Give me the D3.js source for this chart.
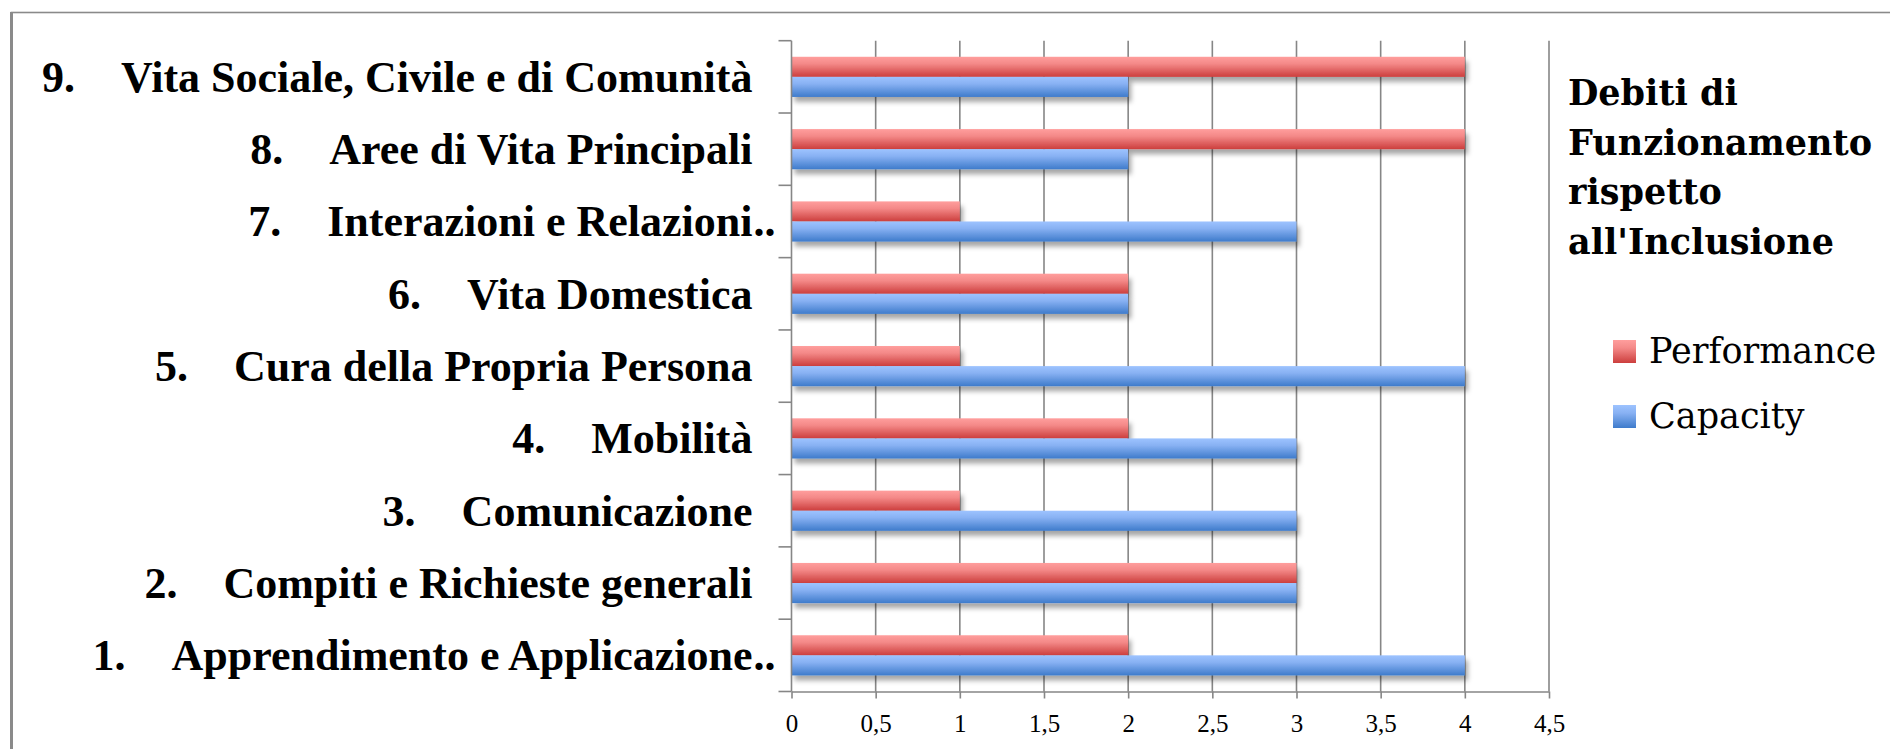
<!DOCTYPE html>
<html>
<head>
<meta charset="utf-8">
<script src="https://cdn.jsdelivr.net/npm/d3@7"></script>
<style>
  body { margin: 0; background: #fff; }
  svg { display: block; }
</style>
</head>
<body>
<div id="chart"></div>
<script>
// data (bottom to top)
var numbers = ["1.", "2.", "3.", "4.", "5.", "6.", "7.", "8.", "9."];
var areas = ["Apprendimento e Applicazione..", "Compiti e Richieste generali", "Comunicazione",
    "Mobilità", "Cura della Propria Persona", "Vita Domestica", "Interazioni e Relazioni..",
    "Aree di Vita Principali", "Vita Sociale, Civile e di Comunità"];
var performance = [2, 3, 1, 2, 1, 2, 1, 4, 4];
var capacity = [4, 3, 3, 3, 4, 2, 3, 2, 2];
var seriesNames = ["Performance", "Capacity"];
var xTicks = [0, 0.5, 1, 1.5, 2, 2.5, 3, 3.5, 4, 4.5];
var titleLines = ["Debiti di", "Funzionamento", "rispetto", "all'Inclusione"];

var width = 1890, height = 749;
var axisColor = "#868686";

var it = d3.formatLocale({decimal: ",", thousands: ".", grouping: [3], currency: ["", "€"]});
var fmt = it.format(".1~f");

var svg = d3.select("#chart").append("svg")
    .attr("width", width)
    .attr("height", height);

var defs = svg.append("defs");

function grad(id, stops) {
    var g = defs.append("linearGradient").attr("id", id)
        .attr("x1", 0).attr("y1", 0).attr("x2", 0).attr("y2", 1);
    stops.forEach(function(s) {
        g.append("stop").attr("offset", s[0]).attr("stop-color", s[1]);
    });
}
grad("gradRed", [["0%", "#ff9e9d"], ["35%", "#f48988"], ["100%", "#cc3e3d"]]);
grad("gradBlue", [["0%", "#9dc3ff"], ["35%", "#88b1f3"], ["100%", "#3e7bcb"]]);

var shadow = defs.append("filter").attr("id", "shadow")
    .attr("x", "-5%").attr("y", "-50%").attr("width", "110%").attr("height", "200%");
shadow.append("feDropShadow")
    .attr("dx", 3).attr("dy", 5).attr("stdDeviation", 2.5)
    .attr("flood-color", "#000").attr("flood-opacity", 0.35);

// outer frame
svg.append("rect")
    .attr("x", 11.5).attr("y", 12.5)
    .attr("width", width + 20).attr("height", height + 20)
    .attr("fill", "none")
    .attr("stroke", "#8a8a8a")
    .attr("stroke-width", 1.6);
svg.append("line")
    .attr("x1", 11.5).attr("x2", 11.5).attr("y1", 12).attr("y2", height)
    .attr("stroke", "#8a8a8a").attr("stroke-width", 3);

// scales
var x = d3.scaleLinear().domain([0, 4.5]).range([791.5, 1549]);
var y = d3.scaleBand().domain(numbers.slice().reverse()).range([40.7, 691.5]);
var ySub = d3.scaleBand().domain(seriesNames).range([0, y.bandwidth()]).paddingOuter(0.8);

// grid lines
svg.append("g").selectAll("line")
    .data(xTicks.filter(function(d) { return d > 0; }))
    .enter().append("line")
    .attr("x1", function(d) { return x(d); })
    .attr("x2", function(d) { return x(d); })
    .attr("y1", y.range()[0])
    .attr("y2", y.range()[1])
    .attr("stroke", axisColor)
    .attr("stroke-width", 1.6);

// bars
var rows = numbers.map(function(n, i) {
    return {num: n, values: [
        {name: "Performance", value: performance[i], fill: "url(#gradRed)"},
        {name: "Capacity", value: capacity[i], fill: "url(#gradBlue)"}
    ]};
});

var groups = svg.append("g").selectAll("g")
    .data(rows)
    .enter().append("g")
    .attr("transform", function(d) { return "translate(0," + y(d.num) + ")"; });

groups.selectAll("rect")
    .data(function(d) { return d.values; })
    .enter().append("rect")
    .attr("x", x(0))
    .attr("y", function(d) { return ySub(d.name); })
    .attr("height", ySub.bandwidth())
    .attr("width", function(d) { return x(d.value) - x(0); })
    .attr("fill", function(d) { return d.fill; })
    .attr("filter", "url(#shadow)");

// y axis: line, boundary ticks, labels
var yLine = svg.append("g");
yLine.append("line")
    .attr("x1", x(0)).attr("x2", x(0))
    .attr("y1", y.range()[0]).attr("y2", y.range()[1])
    .attr("stroke", axisColor).attr("stroke-width", 1.6);
yLine.selectAll(".bt")
    .data(y.domain().map(function(d) { return y(d); }).concat([y.range()[1]]))
    .enter().append("line")
    .attr("x1", x(0) - 13).attr("x2", x(0))
    .attr("y1", function(d) { return d; }).attr("y2", function(d) { return d; })
    .attr("stroke", axisColor).attr("stroke-width", 1.6);

var yAxis = svg.append("g")
    .attr("transform", "translate(" + x(0) + ",0)")
    .call(d3.axisLeft(y).tickSize(0).tickPadding(39));
yAxis.select(".domain").remove();
yAxis.attr("font-family", "'Liberation Serif', serif")
    .attr("font-size", 44)
    .attr("font-weight", "bold");

yAxis.selectAll(".tick text").each(function(d) {
    var i = numbers.indexOf(d);
    var label = areas[i];
    var cut = /\.\.$/.test(label);
    var body = cut ? label.slice(0, -2) : label;
    var t = d3.select(this).text(null)
        .attr("fill", "#000")
        .attr("dy", "0.34em");
    t.append("tspan").text(d);
    t.append("tspan").attr("dx", 46).text(body);
    if (cut) {
        d3.select(this.parentNode).append("text")
            .attr("x", -38).attr("dy", "0.34em")
            .attr("text-anchor", "start")
            .attr("fill", "#000")
            .text("..");
    }
});

// x axis
var xAxis = svg.append("g")
    .attr("transform", "translate(0," + y.range()[1] + ")")
    .call(d3.axisBottom(x).tickValues(xTicks).tickFormat(fmt).tickSize(7).tickSizeOuter(0).tickPadding(16));
xAxis.select(".domain").attr("stroke", axisColor).attr("stroke-width", 1.6);
xAxis.selectAll(".tick line").attr("stroke", axisColor).attr("stroke-width", 1.6);
xAxis.selectAll(".tick text")
    .attr("fill", "#000")
    .attr("font-family", "'Liberation Serif', serif")
    .attr("font-size", 25);

// legend
var legend = svg.append("g").attr("transform", "translate(1568,0)");
legend.selectAll(".title")
    .data(titleLines)
    .enter().append("text")
    .attr("x", 0)
    .attr("y", function(d, i) { return 105 + i * 49.5; })
    .attr("font-family", "'DejaVu Serif', serif")
    .attr("font-weight", "bold")
    .attr("font-size", 35)
    .attr("fill", "#000")
    .text(function(d) { return d; });

var items = legend.selectAll(".item")
    .data([{name: seriesNames[0], fill: "url(#gradRed)"}, {name: seriesNames[1], fill: "url(#gradBlue)"}])
    .enter().append("g")
    .attr("transform", function(d, i) { return "translate(45," + (340 + i * 65) + ")"; });
items.append("rect")
    .attr("width", 23).attr("height", 23)
    .attr("fill", function(d) { return d.fill; });
items.append("text")
    .attr("x", 36).attr("y", 23)
    .attr("font-family", "'DejaVu Serif', serif")
    .attr("font-size", 35)
    .attr("fill", "#000")
    .text(function(d) { return d.name; });
</script>
</body>
</html>
